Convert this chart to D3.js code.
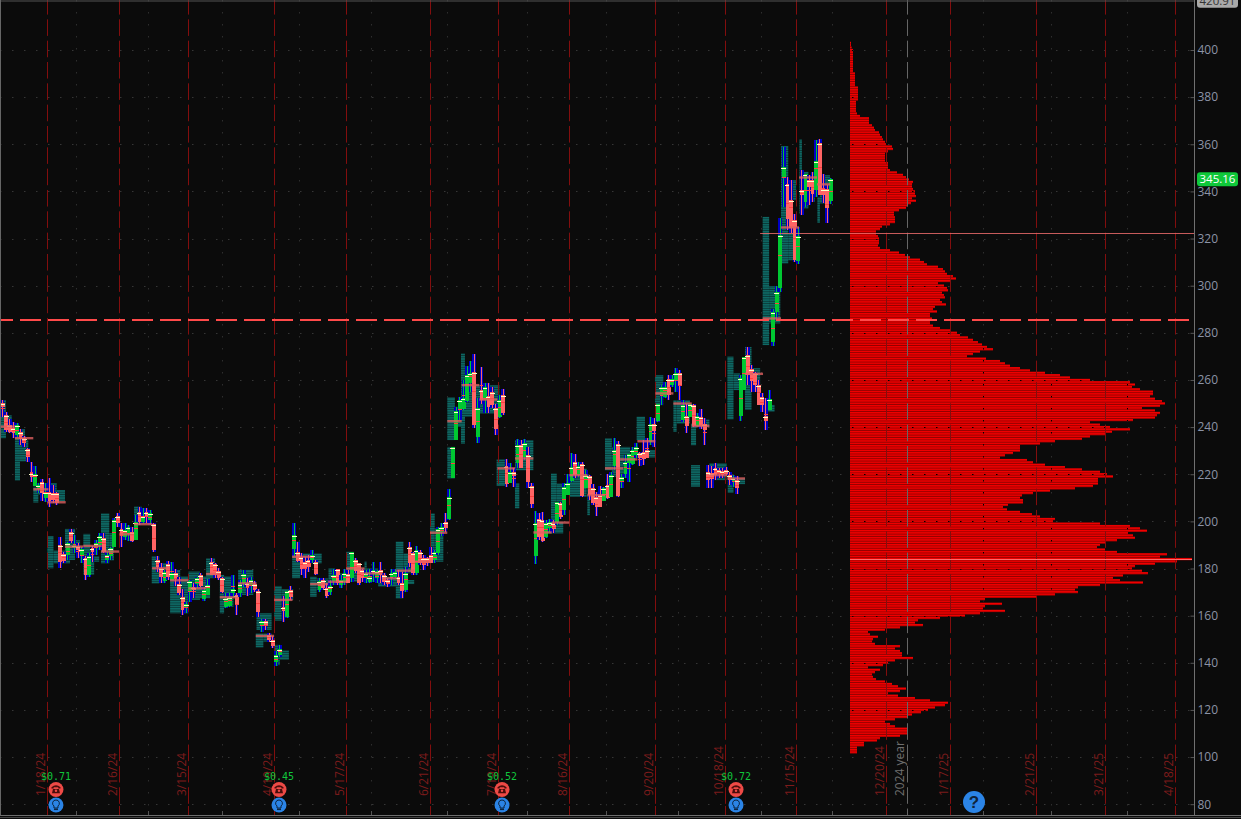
<!DOCTYPE html>
<html><head><meta charset="utf-8">
<script src="https://cdn.jsdelivr.net/npm/d3@7"></script>
<style>html,body{margin:0;padding:0;background:#0b0b0b;overflow:hidden}svg{display:block}</style>
</head><body><svg id="c" width="1241" height="819"></svg>
<script>
// Daily bars, trading-day order: [open, high, low, close]
const ohlc = [
[250.4,251.5,244.4,248.7],[245.2,246.3,238.1,238.8],[240.9,243.3,237.4,238.1],[239.5,242.3,235.3,237.4],[236.7,241.6,236,240.9],[238.1,239.1,232.4,234.8],[235.3,236.2,231.7,233.4],[230.6,231,225.4,227.2],[220.7,225.4,216.9,218.7],[215,223.5,214.8,220.1],
[214,216.2,211.9,215.5],[216.9,217.9,208.8,211.9],[209.8,216.2,208.4,212.6],[212.6,218.3,206.3,208.8],[211.9,215.5,207.7,209.1],[211.9,212.6,207,208],[190,193.5,180.1,182.9],[186.2,187.2,182.2,183.2],[185.8,191.4,183.6,190.7],[195.7,196.8,190.7,191.8],
[188.6,194.2,186.5,190],[189.6,190.7,184.3,187.9],[185.1,189.3,182.2,188.2],[184.3,185.1,175.2,177.3],[177.3,186.5,176.6,185.1],[188.6,189.6,182.9,187.2],[189.3,192.1,185.8,190.7],[190,195,187.9,193.8],[192.8,195,186.5,187.2],[183.6,187.2,182.2,185.8],
[185.3,189.3,183.6,188.6],[189.3,201.3,189.3,200.6],[202.3,203.4,197.8,199.5],[196.8,199.2,189.3,194],[193.5,199.2,192.1,196.4],[194.7,198.5,191.8,197.8],[195.7,197.8,191.4,191.8],[192.1,202.7,192.1,199.9],[204.1,206,198.5,199.9],[199.9,205.6,199.2,202.3],
[204.1,205.6,199.2,202],[200.6,204.9,198.5,203.4],[198.9,199.2,186.8,187.9],[183.6,185.1,178.7,180.5],[180.1,182.2,173.7,176.6],[174.5,179.4,173.7,178.7],[182,183.2,175.2,176.6],[175.2,182.9,175.2,178],[178.3,179.7,172.6,175.4],[173.5,176.3,168.8,169.5],
[168.1,171.2,160.3,162.4],[163.1,166,161,165],[170.2,175.2,166,174.5],[172.3,173.7,167.4,170.9],[173.5,176.6,171.6,175.9],[177.3,178.3,172,172.6],[167,172.3,166.4,170.9],[168.8,175.4,168.8,173],[182.9,184.3,177.3,177.3],[182,182.5,175.9,177.3],
[179.1,180.1,175.2,175.9],[175.9,176.6,169.5,170.2],[163.8,169.5,163.1,167.4],[164.1,169.5,163.8,168.1],[169.5,177.3,168.1,171.2],[168.8,169.5,160.3,165],[169.5,175.2,168.1,173.5],[173.7,179.4,172.3,177.7],[174,175.9,168.4,172],[173,176.6,169.5,175.2],
[173.5,174.5,170.2,170.9],[170.6,171.2,159.3,161.7],[156,158.5,153.2,157.9],[157.9,158.5,153.9,155.4],[151.8,152.5,149,149.7],[149.7,151.4,146.2,147.2],[140.5,144.8,138.7,143.3],[143.3,147.6,142.4,145.7],[163.8,168.4,157.5,162.1],[159.3,170.6,158.9,170.6],
[170.9,172.6,166.7,168.1],[188.3,199.2,185.1,194.2],[187.2,191.4,182.9,183.2],
[184.7,186.4,177.2,179.6],[182.9,185,175.8,179.6],[183.6,185.7,178.6,180.8],[183.6,187.8,182.2,185.7],[182.6,183.6,177.2,177.7],[170.9,175.8,170.2,174.8],[175.1,175.8,170.9,171.6],[171.6,173.7,167.7,168.3],[170.2,175.1,168.7,172.6],
[174.8,180,173,177.2],[180,180,173,174],[173,177.2,171.6,175.1],[174.4,180,173,177.9],[177.6,179.3,173.7,173.7],[175.8,187.1,174.4,187.1],[183.6,184.3,177.9,179.1],[182.2,182.2,173,174],[179.3,180,174.4,175.8],[175.8,179.3,173.7,177.9],
[174.4,180,173.7,176.5],[177.6,182.9,174.4,179.3],[175.8,179.3,174,179.1],[179.3,182.9,174,177.2],[177.2,177.9,173,174.4],[175.1,175.8,172.3,173.4],[175.8,179.6,173,177.9],[176.5,180,175.8,178.6],[176.5,179.3,173,174],[174,178.6,167.7,170.4],
[170.9,180.8,170.2,177.9],[189,191.4,180.8,182.2],[186.4,187.1,177.2,177.9],[177.9,189.5,177.2,187.8],[187.1,187.8,181.5,182.2],[184.3,185.7,179.3,181.5],[184.3,185,181,182.2],[185.7,189.2,182.2,182.5],[183.6,187.8,182.2,187.1],[186.4,197.7,185.7,196.7],
[195.6,199.1,193.8,197.7],[199.9,203.4,195.6,197.4],
[200.8,213.7,200.5,210.4],[218.6,231.6,218.2,231.6],[234.5,248.6,234.5,246.9],[247.5,252.6,243,251.7],[247.6,259.9,247.2,252.2],[251.2,265.9,250.7,262],[258.5,268.1,255,262.8],[263.5,271.2,239.8,240.8],[235.9,252.2,233.1,248.3],[255.7,265.6,250,251.7],
[251.4,258.5,245.8,257.1],[253.1,258.8,246.1,248.6],[255,257.1,247.9,249.3],[247.9,250,236.6,239],[244.4,253.6,243.7,251.4],[253.8,256,245.1,246.1],[223.4,226.3,214.7,215.8],[216.1,224.6,216.1,221],[221,222.5,214.7,219.2],[224.6,234.8,222.5,232.4],
[232.4,234.5,222.5,222.5],[227.4,234.8,226,233.1],[228.1,231.6,214,216.8],[215,216.1,205.5,207.3],[185.3,204.3,181.9,199.4],[200.8,203.4,192,193.5],[200.5,204.1,191.3,191.6],[193.5,200.5,192.8,199.4],[197,201.2,195.6,199.8],[199.4,200.5,194.9,196.6],
[199.8,208.3,198.4,208.3],[207.6,208.3,201.2,201.7],[204.8,216.1,202.7,214.4],[211.1,220.3,211.1,216.1],[217.2,228.8,216.8,223.2],[225.3,228.5,218.2,219.6],[219.6,225.3,218.9,223.4],[224.3,225.3,210.4,210.7],[214,221.7,214,219.6],[219.2,219.6,209,211.1],
[214,215.8,206.9,207.6],[210.4,212.6,202.2,206.2],[211.1,215,205.9,206.2],[208.7,214.7,208.7,214],[215.4,220.3,209.3,210.1],[210.4,221,210.4,219.6],[223.4,235.2,221.7,230.2],[232.8,234,210.4,210.7],[216.8,220.3,214,218.9],[220.3,228.1,218.2,225.3],
[224.6,228.5,216.8,228.5],[224.3,231.6,223.9,230.2],[228.1,233.1,226.7,231.6],[229.1,229.5,223.4,226.7],[229.5,234.5,223.9,226.3],[230.2,235.2,226.7,227.1],[233.8,244.4,232.3,241.5],[241.5,243.7,231.6,238.4],[242.7,250,242.3,250],[253.6,257.8,249.3,257.1],
[252.6,259.2,252.2,257.1],[260.6,262,251.7,253.6],[257.8,262,257.1,260.2],[259.6,264.9,255,262.8],[262.8,264.2,251.7,257.8],[243,251.4,242.3,249.3],[244.6,250,237.6,240.4],[244.4,250,244.4,250],[249.3,250,240.1,240.4],[240.4,245.8,240.1,244.6],
[244.4,247.5,239.4,240.4],[241.5,243.7,232.3,238.7],[221,223.9,214,217.5],[220.6,223.4,214,217.8],[222.5,224.9,217.5,219.6],[221.7,222.5,218.2,220.3],[221.5,222.5,218.2,219.6],[222,222.9,219.6,220.3],[219.6,221,215.4,217.5],[216.8,219.6,214.7,218.6],
[217.5,219.2,211.8,214],
[244.7,262.1,242.7,260.7],[255.7,269.9,255.7,269.6],[270.6,273.8,257.9,262.1],[264.5,266.4,255,259.7],[262.8,263.5,255,257.9],[257.9,260,249.4,249.4],[252.6,254.3,246.6,249.4],[244.7,252.2,238.8,242.7],[247.3,255.7,247.3,251.8],
[276,289.9,274.5,288.9],[288.9,299.8,285.4,297.4],[299.2,328.9,297.4,321.4],[346.2,358.9,333.5,350.4],[343.1,346.2,323.6,328.5],[336.3,344.8,322.2,324.3],[327.8,330.4,310.1,310.8],[310.6,325,309.1,321],[340.8,349,329.9,338.4],[335.6,347.6,333.5,347.6],
[344.8,346.9,334.2,342],[344.8,348.3,335.6,339.1],[340.8,362,337.7,353],[360.6,362.2,338.4,338.4],[341.2,347.3,335.2,338.4],[341.2,342.7,326.7,332.8],[336,345.5,334.6,345.1]
];
// Market-profile blocks: [first day, last day, top price, bottom price]
const tealBlocks = [
[-0.75,0.9,251.5,235.3],[0.9,2.5,245,238],[3.4,6.2,239.1,234.5],[3.4,4.8,234.5,217.3],[4.8,7.1,234.5,225.4],[8.5,9.9,214.8,208],[9.9,15,216.2,211.2],[15,17.3,213.3,208.4],[12.4,14.1,193.8,180.1],[14.1,18.7,187.6,182.2],[17.3,20.1,196.8,183.6],[20.1,21.5,192,187.9],[22.4,24.3,194.7,177.3],[24.3,25.4,187.9,177.3],[25.4,26.8,185.1,182.9],[27.3,29.6,203.4,182.2],[29.6,30.9,195,183.4],[36.5,38.6,206.3,199.9],[38.6,41.4,204.1,199.2],[41.4,43.5,185.1,173.7],[43.5,46.5,182.2,175.2],[46.5,49.3,179.4,161],[49.3,51.6,176.6,161],[51.6,54.8,178.7,166.7],[54.8,57.6,176.6,167.4],[56.5,59,184.3,175.9],[60.3,61.5,177.3,161],[61.5,64.1,176.6,163.8],[65.4,69.6,179.4,168.8],[70.5,74.7,161,153.9],[70.3,72.4,152.5,146.5],[72.4,74.7,152.5,149],[75.4,77.5,172.6,157.9],[77.5,80.7,171.2,166.7],[75.6,77,147.6,139],[77,79.5,145.2,141.2],
[80.4,82.6,191.4,175.9],[82.6,88.6,186.4,182.2],[85.4,87.2,176.5,168],[87.2,90.5,175.8,170.9],[90.5,92.3,180,174.4],[92.3,96,177.9,173.7],[95.4,97.4,187.1,175.8],[97.4,100.6,180,174.4],[100.5,101.1,182.9,180],[100.6,104.3,180,174.4],[104.3,109.4,176.5,172.3],[109.2,111.3,191.4,167.3],[111.3,114.5,186.4,178],[111.3,114.3,175.1,173.4],[118.7,120,203.4,182.9],[120,122.4,197,182.9],
[123.5,125.6,252.6,234.5],[123.5,125.6,231.6,218.2],[125.6,128.4,248.6,240.1],[127.3,128.4,271.2,233],[128.4,131.2,259.9,244.4],[131.2,138,257.8,245.8],[137.2,139.5,226.3,215],[142.3,143.5,216.1,205.5],[142.3,147.4,234.5,221.7],[152.3,153.9,220.3,200.5],[153.9,155.7,216,207.6],[150.2,155.7,199.8,194.9],[157.4,162.2,222.4,210.4],[162.4,163.1,214.7,202.6],[167.3,169.2,235.2,221.7],[169.2,174.3,231.6,218.9],[176.1,178.4,244.4,234.5],[179.4,181.2,230.2,227.1],[181.2,183.5,262,249.3],[186.3,187.2,251.4,238],[187.2,190.9,251.4,241.5],[191.2,192.6,241.5,232.3],[191.2,193.7,223.9,214.7],[192.6,196.3,243.2,240.1],[196.3,201.1,224.6,217.5],[201.4,203,218.9,212.1],[203.9,206.2,218.2,215.8],
[201.3,203,269.9,243.3],[203,204.8,262.8,255.7],[206.2,208,274,247.3],[208,210.4,265,255],[212.6,214.4,249.4,246.6],[211.1,212.9,329.2,274.8],[212.9,216,299.8,284],[216.2,218.2,359.2,309.4],[218.2,220.4,322.2,310.8],[218.2,220.4,344.8,336.3],[221.3,222,362,330.6],[222,223.8,348.3,332.8],[223.8,225.6,344.8,335.6],[226.3,227,337.7,326.7],[227,229.8,346.9,334.9]
];
// Point-of-control segments: [first day, last day, price]
const pocLines = [
[-0.75,3.4,240.2],[3.4,8.5,235.3],[8.5,12.7,213.6],[12.4,17.5,208.1],[17.3,22.4,189.3],[22.4,27.5,189.6],[27.3,32.4,187.2],[32.4,36.5,194.5],[36.5,41.5,198.8],[41.5,46.5,180.1],[46.5,51.6,175],[51.6,56.5,171.6],[56.5,60.3,177.7],[60.3,65.4,167.8],[65.4,70.5,173.7],[70.3,75.4,151.4],[75.4,80.5,166.7],[80.4,85.5,185],[85.4,90.4,173.4],[90.4,95.4,174.4],[95.4,100.5,180],[100.5,105.5,177.9],[105.5,109.5,175.8],[109.3,114.4,179.1],[114.4,119,182.9],[118.7,123.5,195.2],[123.5,127.5,242.5],[127.5,132.4,257.8],[132.4,137.4,251.7],[137.4,142.3,222.5],[142.3,147.4,226.7],[147.4,152.5,195.3],[152.5,157.4,199.5],[157.4,162.4,219.6],[162.4,167.3,211.1],[167.3,172.4,222.5],[171.5,176.3,226.3],[176.3,181.3,234],[181.3,186.3,254.3],[186.3,191.4,250],[191.4,196.3,240.5],[196.3,201.3,219.6],[201.3,206.2,218.2],[206.2,211.2,262.6],[211.1,216.2,286.1],[216.2,221.2,324.7],[221.2,226.2,345.9],[226.2,229.9,343]
];
// Volume profile: one value per $1 price bin, from profileTopPrice downward
const profileTopPrice = 403;
const profileVolume = [
1,1,1.5,3,3,3,3,3,3,3,3,3,3,5,5,5,5,5,5,8,8,8,8,8,8,6,6,6,6,6,7,10,19,19,19,22,24,25,29,30,32,33,35,36,42,43,38,35,35,35,35,38,38,38,40,47,53,56,59,63,62,62,63,65,65,66,62,66,61,58,56,49,44,44,45,45,45,40,32,30,26,26,28,29,29,29,28,30,40,49,55,60,70,74,77,88,93,95,97,103,106,100,88,94,97,98,92,94,95,90,92,96,85,83,87,80,80,82,80,80,83,90,100,107,110,118,123,128,132,137,143,130,123,117,136,150,155,160,170,180,195,210,220,240,280,285,282,290,303,303,300,305,312,315,310,292,305,310,307,305,283,240,250,260,280,262,255,240,232,205,190,170,170,170,163,155,150,177,183,195,215,232,250,257,263,248,248,248,243,225,200,183,172,170,173,173,158,153,157,170,182,190,205,203,250,280,290,297,278,283,285,267,255,250,247,255,267,317,310,342,327,305,285,282,292,298,273,263,270,293,250,228,225,228,205,187,135,130,152,135,133,155,130,115,90,68,65,73,50,35,18,20,28,23,22,25,50,45,50,52,52,63,45,38,33,18,30,25,22,23,26,35,42,48,56,50,38,48,65,80,98,95,85,78,71,62,57,45,35,40,45,58,58,58,50,30,27,14,14,7,7,7
];
const priceTicks = [400,380,360,340,320,300,280,260,240,220,200,180,160,140,120,100,80];
const dateLabels = ["1/18/24","2/16/24","3/15/24","4/19/24","5/17/24","6/21/24","7/19/24","8/16/24","9/20/24","10/18/24","11/15/24","12/20/24","1/17/25","2/21/25","3/21/25","4/18/25"];
const dateDays = [12.3,32.3,51.5,75.4,95.4,118.7,137.6,157.3,181.2,200.6,220.4,245.4,263.2,287.1,306.3,325.7];
const gridDays = [20.4,40.4,60.9,82.3,102.3,123.4,145.6,167.6,187.6,210.6,230.4,272.3,291.2,312.3];
const yearDay = 251.2, yearLabel = "2024 year";
const dividendLabels = ["$0.71","$0.45","$0.52","$0.72"];
const dividendDays = [14.8,76.75,138.7,203.7];
const lastPrice = 345.16, highPrice = 420.91, alertPrice = 285.4, levelPrice = 322.3, levelStartDay = 210.4, pocPrice = 184;

const svg = d3.select("#c");
const W = 1241, H = 819, axisX = 1194.5, bottomY = 815;
const bg = "#0b0b0b", pink = "#ff6464", green = "#00c832", blue = "#0000c4";
const x = d3.scaleLinear().domain([0,331]).range([2.7,2.7+331*3.6]);
const y = d3.scaleLinear().domain([400,80]).range([50,804.2]);
const vol = d3.scaleLinear().domain([0,342]).range([850,1192]);
const rowH = Math.abs(y(0)-y(1));
const bins = profileVolume.map((v,i)=>({price:profileTopPrice-i,v}));

svg.append("rect").attr("width",W).attr("height",H).attr("fill",bg);
const defs = svg.append("defs");
const pat = defs.append("pattern").attr("id","teal").attr("patternUnits","userSpaceOnUse").attr("width",8).attr("height",rowH);
pat.append("rect").attr("width",8).attr("height",rowH).attr("fill","#0a3a38");
pat.append("rect").attr("width",8).attr("height",rowH*0.62).attr("fill","#0e6a66");
defs.append("clipPath").attr("id","profClip").selectAll("rect").data(bins).join("rect")
  .attr("x",vol(0)).attr("y",d=>y(d.price)-rowH/2).attr("width",d=>vol(d.v)-vol(0)).attr("height",rowH);

// faint dotted grid
function gridH(g,col){ g.selectAll("line").data(priceTicks).join("line").attr("x1",0).attr("x2",axisX-4)
  .attr("y1",d=>Math.round(y(d))+.5).attr("y2",d=>Math.round(y(d))+.5).attr("stroke",col).attr("stroke-dasharray","1.5 10.5"); }
function gridV(g,col){ g.selectAll("line").data(gridDays).join("line").attr("y1",0).attr("y2",bottomY)
  .attr("x1",d=>Math.round(x(d))+.5).attr("x2",d=>Math.round(x(d))+.5).attr("stroke",col).attr("stroke-dasharray","1.5 10.5"); }
gridH(svg.append("g"),"#363636"); gridV(svg.append("g"),"#2e2e2e");

// teal market-profile blocks
svg.append("g").selectAll("rect").data(tealBlocks).join("rect")
  .attr("x",d=>x(d[0])).attr("width",d=>x(d[1])-x(d[0]))
  .attr("y",d=>y(d[2])).attr("height",d=>y(d[3])-y(d[2])).attr("fill","url(#teal)");

// volume profile
const prof = svg.append("g");
prof.selectAll("rect.base").data(bins).join("rect").attr("class","base")
  .attr("x",vol(0)).attr("y",d=>y(d.price)-rowH/2).attr("width",d=>vol(d.v)-vol(0)).attr("height",rowH).attr("fill","#ad0000");
prof.selectAll("rect.top").data(bins).join("rect").attr("class","top")
  .attr("x",vol(0)).attr("y",d=>y(d.price)-rowH/2+.2).attr("width",d=>vol(d.v)-vol(0)).attr("height",rowH*.56).attr("fill","#f00000");
const clipG = svg.append("g").attr("clip-path","url(#profClip)");
gridH(clipG.append("g"),"#000"); gridV(clipG.append("g"),"#000");

// vertical date lines
const dash = "16.6 4.73";
svg.append("g").selectAll("line").data(dateDays).join("line")
  .attr("x1",d=>Math.round(x(d))+.5).attr("x2",d=>Math.round(x(d))+.5).attr("y1",0).attr("y2",bottomY)
  .attr("stroke","#820e0e").attr("stroke-width",1).attr("stroke-dasharray",dash).attr("stroke-dashoffset",2);
svg.append("line").attr("x1",Math.round(x(yearDay))+.5).attr("x2",Math.round(x(yearDay))+.5).attr("y1",0).attr("y2",bottomY)
  .attr("stroke","#666").attr("stroke-dasharray",dash).attr("stroke-dashoffset",2);

// candles
const bars = svg.append("g").attr("shape-rendering","crispEdges").selectAll("g").data(ohlc).join("g");
bars.append("rect").attr("x",(d,i)=>x(i)-2).attr("width",3.6).attr("y",d=>y(d[1])).attr("height",d=>y(d[2])-y(d[1])).attr("fill",blue);
bars.append("rect").attr("x",(d,i)=>x(i)-.5).attr("width",1).attr("y",d=>y(d[1])).attr("height",d=>y(d[2])-y(d[1])).attr("fill",d=>d[3]>=d[0]?green:pink);
bars.append("rect").attr("x",(d,i)=>x(i)-2).attr("width",4).attr("y",d=>y(Math.max(d[0],d[3]))).attr("height",d=>Math.max(1,y(Math.min(d[0],d[3]))-y(Math.max(d[0],d[3])))).attr("fill",d=>d[3]>=d[0]?green:pink);
bars.append("rect").attr("x",(d,i)=>x(i)-2).attr("width",4).attr("y",d=>y((d[1]+d[2])/2)).attr("height",1).attr("fill","#ff4040");
bars.append("rect").attr("x",(d,i)=>x(i)-2.5).attr("width",5).attr("y",d=>y(Math.max(d[0],d[3]))+1).attr("height",1).attr("fill","#ffffc8");

// POC segments
svg.append("g").selectAll("line").data(pocLines).join("line")
  .attr("x1",d=>x(d[0])).attr("x2",d=>x(d[1])).attr("y1",d=>y(d[2])).attr("y2",d=>y(d[2]))
  .attr("stroke","#e26060").attr("stroke-width",2.4).attr("opacity",.78);

// key levels
svg.append("line").attr("x1",x(levelStartDay)).attr("x2",axisX).attr("y1",Math.round(y(levelPrice))+.5).attr("y2",Math.round(y(levelPrice))+.5).attr("stroke","#e86a6a").attr("stroke-width",1).attr("opacity",.85);
svg.append("line").attr("x1",vol(0)).attr("x2",vol(342)).attr("y1",Math.round(y(pocPrice))+.5).attr("y2",Math.round(y(pocPrice))+.5).attr("stroke","#ff6a6a").attr("stroke-width",1);
svg.append("line").attr("x1",0).attr("x2",1189).attr("y1",y(alertPrice)).attr("y2",y(alertPrice)).attr("stroke","#ff4a4a").attr("stroke-width",2).attr("stroke-dasharray","21 7").attr("stroke-dashoffset",8);

// frame
svg.append("line").attr("x1",0).attr("x2",axisX).attr("y1",1).attr("y2",1).attr("stroke","#555");
svg.append("line").attr("x1",.5).attr("x2",.5).attr("y1",0).attr("y2",bottomY).attr("stroke","#666");
svg.append("line").attr("x1",0).attr("x2",W).attr("y1",815.5).attr("y2",815.5).attr("stroke","#6e6e6e");
svg.append("line").attr("x1",0).attr("x2",W).attr("y1",817.5).attr("y2",817.5).attr("stroke","#444");
svg.append("g").selectAll("line").data(gridDays).join("line").attr("x1",d=>Math.round(x(d))+.5).attr("x2",d=>Math.round(x(d))+.5).attr("y1",811).attr("y2",815).attr("stroke","#555");
svg.append("g").selectAll("line").data(dateDays).join("line").attr("x1",d=>Math.round(x(d))+.5).attr("x2",d=>Math.round(x(d))+.5).attr("y1",806).attr("y2",815).attr("stroke","#820e0e");

// price axis
const uiFont = "'Open Sans',sans-serif";
const axL = svg.append("g").attr("transform",`translate(${axisX},0)`).call(d3.axisLeft(y).tickValues(priceTicks).tickSize(4).tickFormat(""));
axL.selectAll("line").attr("stroke","#555"); axL.select(".domain").remove();
const axR = svg.append("g").attr("transform",`translate(${axisX},0)`).call(d3.axisRight(y).tickValues(priceTicks).tickSize(0).tickPadding(3));
axR.select(".domain").remove();
axR.selectAll("text").attr("fill","#8b93a6").attr("font-family",uiFont).attr("font-size",12);
svg.append("line").attr("x1",axisX).attr("x2",axisX).attr("y1",0).attr("y2",bottomY).attr("stroke","#707070");

function priceTag(p,fill,txt){
  svg.append("rect").attr("x",1197).attr("y",y(p)-7).attr("width",41).attr("height",14).attr("rx",3).attr("fill",fill);
  svg.append("text").attr("x",1217.5).attr("y",y(p)).attr("dy","0.36em").attr("text-anchor","middle").attr("fill",txt).attr("font-family",uiFont).attr("font-size",11.5).text(d3.format(".2f")(p));
}
priceTag(highPrice,"#a9a9a9","#333");
priceTag(lastPrice,"#0fc83a","#fff");

// date labels
svg.append("g").selectAll("text").data(dateLabels).join("text")
  .attr("transform",(d,i)=>`translate(${Math.round(x(dateDays[i]))-2},796) rotate(-90)`)
  .attr("fill","#7d1b1b").attr("font-family",uiFont).attr("font-size",12).text(d=>d);
svg.append("text").attr("transform",`translate(${Math.round(x(yearDay))-3},796) rotate(-90)`)
  .attr("fill","#6f6f6f").attr("font-family",uiFont).attr("font-size",12).text(yearLabel);

// dividend + earnings markers
const ev = svg.append("g").selectAll("g").data(dividendLabels).join("g")
  .attr("transform",(d,i)=>`translate(${x(dividendDays[i])},0)`);
ev.append("text").attr("x",0).attr("y",780).attr("text-anchor","middle").attr("fill","#10c63c")
  .attr("font-family","'DejaVu Sans Mono',monospace").attr("font-size",10).text(d=>d);
ev.append("circle").attr("cy",789.5).attr("r",7.5).attr("fill","#ee4a46");
ev.append("path").attr("d","M-4.5,787.2 Q0,783.2 4.5,787.2 L4.5,788.6 L2.4,788.6 L2.2,787.2 L-2.2,787.2 L-2.4,788.6 L-4.5,788.6 Z M-3,789 L3,789 L4,793.2 L-4,793.2 Z").attr("fill","#4a0d0b");
ev.append("circle").attr("cx",0).attr("cy",790.8).attr("r",1.2).attr("fill","#ee4a46");
ev.append("circle").attr("cy",805).attr("r",7.5).attr("fill","#2b84e6");
ev.append("path").attr("d","M0,800 A3.3,3.3 0 0 1 2,806 L2,808 L-2,808 L-2,806 A3.3,3.3 0 0 1 0,800 Z").attr("fill","#2b84e6").attr("stroke","#0c2440").attr("stroke-width",1);
ev.append("rect").attr("x",-2).attr("y",808.6).attr("width",4).attr("height",1.5).attr("fill","#0c2440");

// help badge
svg.append("circle").attr("cx",974).attr("cy",802).attr("r",11).attr("fill","#2b84e6");
svg.append("text").attr("x",974).attr("y",802).attr("dy","0.36em").attr("text-anchor","middle").attr("fill","#10233a").attr("font-family","'Liberation Sans',sans-serif").attr("font-weight",700).attr("font-size",17).text("?");
</script></body></html>
